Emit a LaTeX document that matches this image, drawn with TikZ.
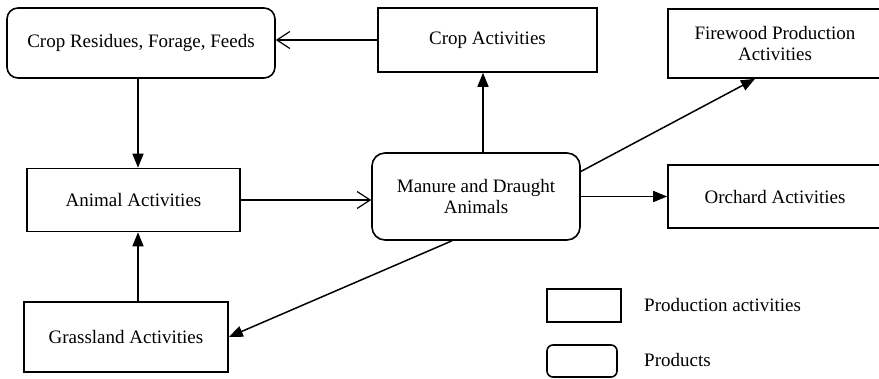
\documentclass[tikz,border=0pt]{standalone}
\usepackage{fontspec}
\setmainfont{Liberation Serif}
\usetikzlibrary{arrows.meta,calc}
\begin{document}
\begin{tikzpicture}[x=1pt,y=-1pt,
  every node/.style={font=\fontsize{19}{21.5}\selectfont, align=center, inner sep=0pt},
  actbox/.style={draw, line width=1.6pt, rectangle},
  prodbox/.style={draw, line width=1.6pt, rectangle, rounded corners=11pt},
  solidarrow/.style={line width=1.5pt, -{Triangle[length=14pt,width=11pt]}},
  openarrow/.style={line width=1.2pt, -{Straight Barb[length=13pt,width=17pt,line width=1.2pt]}}
]
\useasboundingbox (0,0) rectangle (879,378);

\node[prodbox, minimum width=268pt, minimum height=70pt] (res) at (141,43) {Crop Residues, Forage, Feeds};
\node[actbox, minimum width=219pt, minimum height=64pt] (cropact) at (487.5,40) {Crop Activities};
\node[actbox, minimum width=214pt, minimum height=69pt] (fire) at (775,43.5) {Firewood Production\\Activities};
\node[actbox, minimum width=213pt, minimum height=63pt] (animal) at (133.5,200) {Animal Activities};
\node[prodbox, minimum width=208pt, minimum height=87pt, rounded corners=13pt] (manure) at (476,196.5) {Manure and Draught\\Animals};
\node[actbox, minimum width=214pt, minimum height=63pt] (orchard) at (775,196.5) {Orchard Activities};
\node[actbox, minimum width=204pt, minimum height=70pt] (grass) at (126,337) {Grassland Activities};

\node[actbox, minimum width=74pt, minimum height=33pt] (legact) at (584,305.5) {};
\node[prodbox, rounded corners=6pt, minimum width=70pt, minimum height=32pt] (legprod) at (582,361) {};
\node[anchor=west] (legacttxt) at (644,305) {Production activities};
\node[anchor=west] (legprodtxt) at (644,360) {Products};

\coordinate (colL) at (138,0);
\coordinate (colM) at (483,0);

\draw[openarrow] (cropact.west) -- (cropact.west -| res.east);
\draw[solidarrow] (res.south -| colL) -- (animal.north -| colL);
\draw[solidarrow] (grass.north -| colL) -- (animal.south -| colL);
\draw[openarrow] (animal.east) -- (animal.east -| manure.west);
\draw[solidarrow] (manure.north -| colM) -- (cropact.south -| colM);
\draw[solidarrow] ([yshift=25pt]manure.east) -- ([xshift=-20pt]fire.south);
\draw[solidarrow] (manure.east) -- (orchard.west);
\draw[solidarrow] ([xshift=-24pt]manure.south) -- (grass.east);
\end{tikzpicture}
\end{document}
